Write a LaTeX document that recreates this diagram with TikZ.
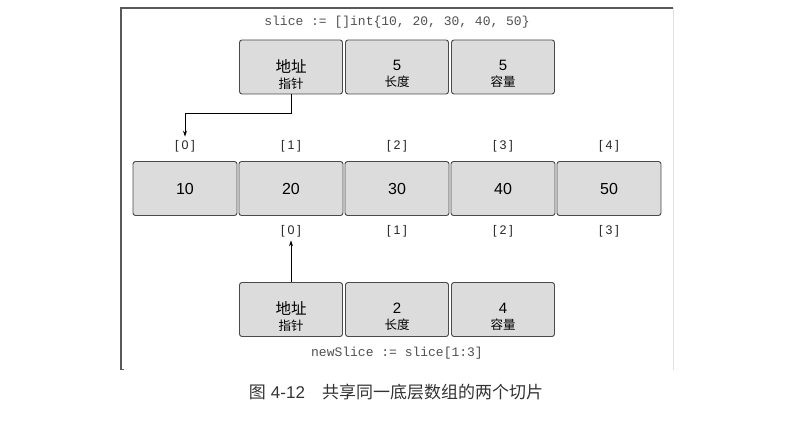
\documentclass[tikz,border=0pt]{standalone}
\usepackage{fontspec}
\setmainfont{Liberation Sans}
\setmonofont{Liberation Mono}
\newfontfamily\cjk{Noto Sans CJK SC}
\newfontfamily\cjkm{Noto Sans CJK SC Medium}
\usetikzlibrary{arrows.meta}
\definecolor{boxfill}{HTML}{DCDCDC}
\definecolor{boxline}{HTML}{4A4A4A}
\definecolor{codegray}{HTML}{505050}
\tikzset{
  cell/.style={draw=boxline, line width=0.9pt, fill=boxfill, rounded corners=2.5pt,
    minimum width=103pt, minimum height=54pt, inner sep=0pt, align=center},
  celltxt/.style={inner sep=0pt, align=center, font=\fontsize{15}{16}\selectfont},
  numtxt/.style={font=\fontsize{16}{16}\selectfont},
  idx/.style={font=\fontsize{12.5}{13}\selectfont, text=black!85},
  code/.style={font=\ttfamily\fontsize{13}{13}\selectfont, text=codegray},
  conn/.style={draw=black, line width=0.8pt},
  tip/.style={-{Stealth[length=6pt,width=4pt]}}
}
\newcommand{\ptrlbl}{{\cjk\fontsize{15.5}{16}\selectfont 地址}\\{\cjk\fontsize{12.5}{13}\selectfont 指针}}
\newcommand{\vallbl}[2]{{\fontsize{15}{16}\selectfont #1}\\{\cjk\fontsize{12.5}{13}\selectfont #2}}
\newcommand{\idxl}[1]{[\hspace{3pt}#1\hspace{3pt}]}
\begin{document}
\begin{tikzpicture}[x=1pt,y=-1pt]
\useasboundingbox (0,0) rectangle (796,422);
% frame
\draw[line width=1.8pt, draw=black!65] (121,370) -- (121,8) -- (673,8);
\draw[line width=1pt, draw=black!12] (673,8) -- (673,370);
\draw[line width=1pt, draw=black!65] (121,369.5) -- (124,369.5);
% code top
\node[code] (codetop) at (397,22) {slice := []int\{10, 20, 30, 40, 50\}};
% top slice
\node[cell] (tp) at (291,67) {};
\node[cell] (tl) at (397,67) {};
\node[cell] (tc) at (503,67) {};
\node[celltxt] (tpt) at ([yshift=-7pt]tp.center) {\ptrlbl};
\node[celltxt] (tlt) at ([yshift=-7pt]tl.center) {\vallbl{5}{长度}};
\node[celltxt] (tct) at ([yshift=-7pt]tc.center) {\vallbl{5}{容量}};
% array
\foreach \i/\v in {0/10,1/20,2/30,3/40,4/50}{
  \node[cell, minimum width=104pt, numtxt] (a\i) at (185+106*\i,188.5) {\v};
  \node[idx] (ai\i) at (185+106*\i,146) {\idxl{\i}};
}
\foreach \i in {0,1,2,3}{
  \node[idx] (bi\i) at (291+106*\i,231) {\idxl{\i}};
}
% bottom slice
\node[cell] (bp) at (291,309.5) {};
\node[cell] (bl) at (397,309.5) {};
\node[cell] (bc) at (503,309.5) {};
\node[celltxt] (bpt) at ([yshift=-7pt]bp.center) {\ptrlbl};
\node[celltxt] (blt) at ([yshift=-7pt]bl.center) {\vallbl{2}{长度}};
\node[celltxt] (bct) at ([yshift=-7pt]bc.center) {\vallbl{4}{容量}};
\node[code] (codebot) at (397,353) {newSlice := slice[1:3]};
% connectors
\coordinate (k1) at (291,113);
\coordinate (k2) at (185,113);
\draw[conn, tip] (tp.south) -- (k1) -- (k2) -- (ai0.north);
\draw[conn, tip] (bp.north) -- (bi0.south);
% caption
\node[font=\cjk\fontsize{17}{17}\selectfont, text=black!80] (cap) at (396,392) {图\hspace{5pt}{\fontspec{Liberation Sans}4-12}\hspace{1em}共享同一底层数组的两个切片};
\end{tikzpicture}
\end{document}
